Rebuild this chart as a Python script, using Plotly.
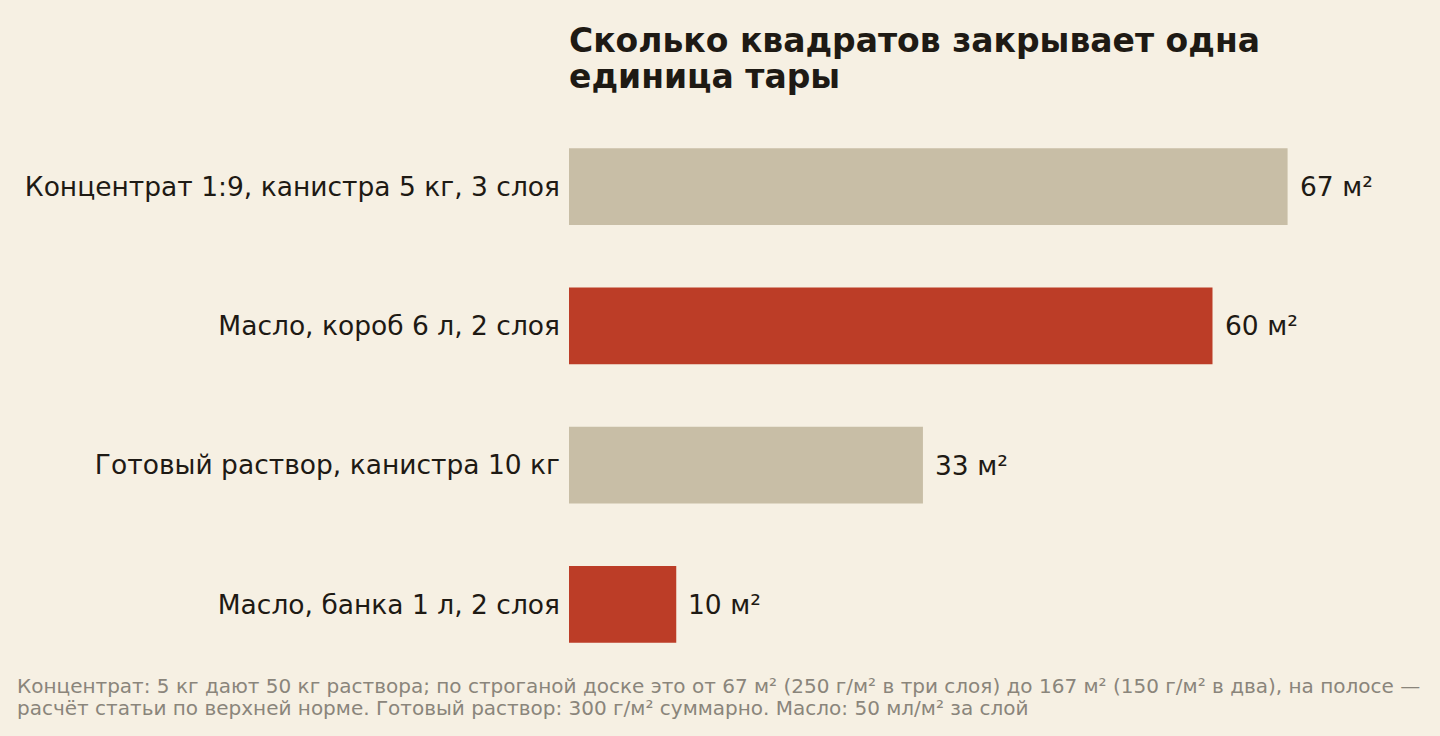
import plotly.graph_objects as go

categories = [
    "Концентрат 1:9, канистра 5 кг, 3 слоя",
    "Масло, короб 6 л, 2 слоя",
    "Готовый раствор, канистра 10 кг",
    "Масло, банка 1 л, 2 слоя",
]
values = [67, 60, 33, 10]
value_labels = ["67 м²", "60 м²", "33 м²", "10 м²"]
highlight = [False, True, False, True]

title_lines = ["Сколько квадратов закрывает одна", "единица тары"]
footer_lines = [
    "Концентрат: 5 кг дают 50 кг раствора; по строганой доске это от 67 м² (250 г/м² в три слоя) до 167 м² (150 г/м² в два), на полосе —",
    "расчёт статьи по верхней норме. Готовый раствор: 300 г/м² суммарно. Масло: 50 мл/м² за слой",
]

BG = "#f6f0e3"
RED = "#bc3d27"
BEIGE = "#c8bea6"
INK = "#1e1a14"
GREY = "#8a857b"
FONT = "DejaVu Sans"

W, H = 1440, 736
ML, MR, MT, MB = 569, 13, 117, 62
plot_w = W - ML - MR
plot_h = H - MT - MB


def px_x(x):
    return (x - ML) / plot_w


def px_y(y):
    return (H - MB - y) / plot_h


colors = [RED if h else BEIGE for h in highlight]

fig = go.Figure(go.Bar(
    x=values,
    y=categories,
    orientation="h",
    marker=dict(color=colors, line=dict(width=0)),
    width=0.55,
    hoverinfo="skip",
))

for v, lab, c in zip(values, value_labels, categories):
    fig.add_annotation(
        x=v, y=c, xref="x", yref="y", text=lab, showarrow=False,
        xanchor="left", yanchor="middle", xshift=10,
        font=dict(family=FONT, size=26.5, color=INK),
    )

for line, yc in zip(title_lines, [40, 77]):
    fig.add_annotation(
        x=px_x(567), y=px_y(yc), xref="paper", yref="paper",
        xanchor="left", yanchor="middle", align="left",
        text="<b>" + line + "</b>", showarrow=False,
        font=dict(family=FONT, size=33, color=INK),
    )

for line, yc in zip(footer_lines, [686, 708]):
    fig.add_annotation(
        x=px_x(15), y=px_y(yc), xref="paper", yref="paper",
        xanchor="left", yanchor="middle", align="left",
        text=line, showarrow=False,
        font=dict(family=FONT, size=20, color=GREY),
    )

fig.update_layout(
    width=W, height=H,
    paper_bgcolor=BG, plot_bgcolor=BG,
    margin=dict(l=ML, r=MR, t=MT, b=MB),
    showlegend=False,
    xaxis=dict(range=[0, 80], visible=False, fixedrange=True),
    yaxis=dict(
        autorange="reversed", showgrid=False, zeroline=False, showline=False,
        ticks="", ticklabelstandoff=8,
        tickfont=dict(family=FONT, size=26.5, color=INK),
        fixedrange=True,
    ),
    font=dict(family=FONT, color=INK),
)

fig.write_html(
    "out.html",
    config={"displayModeBar": False},
    post_script="document.body.style.margin='0';document.body.style.background='" + BG + "';",
)
